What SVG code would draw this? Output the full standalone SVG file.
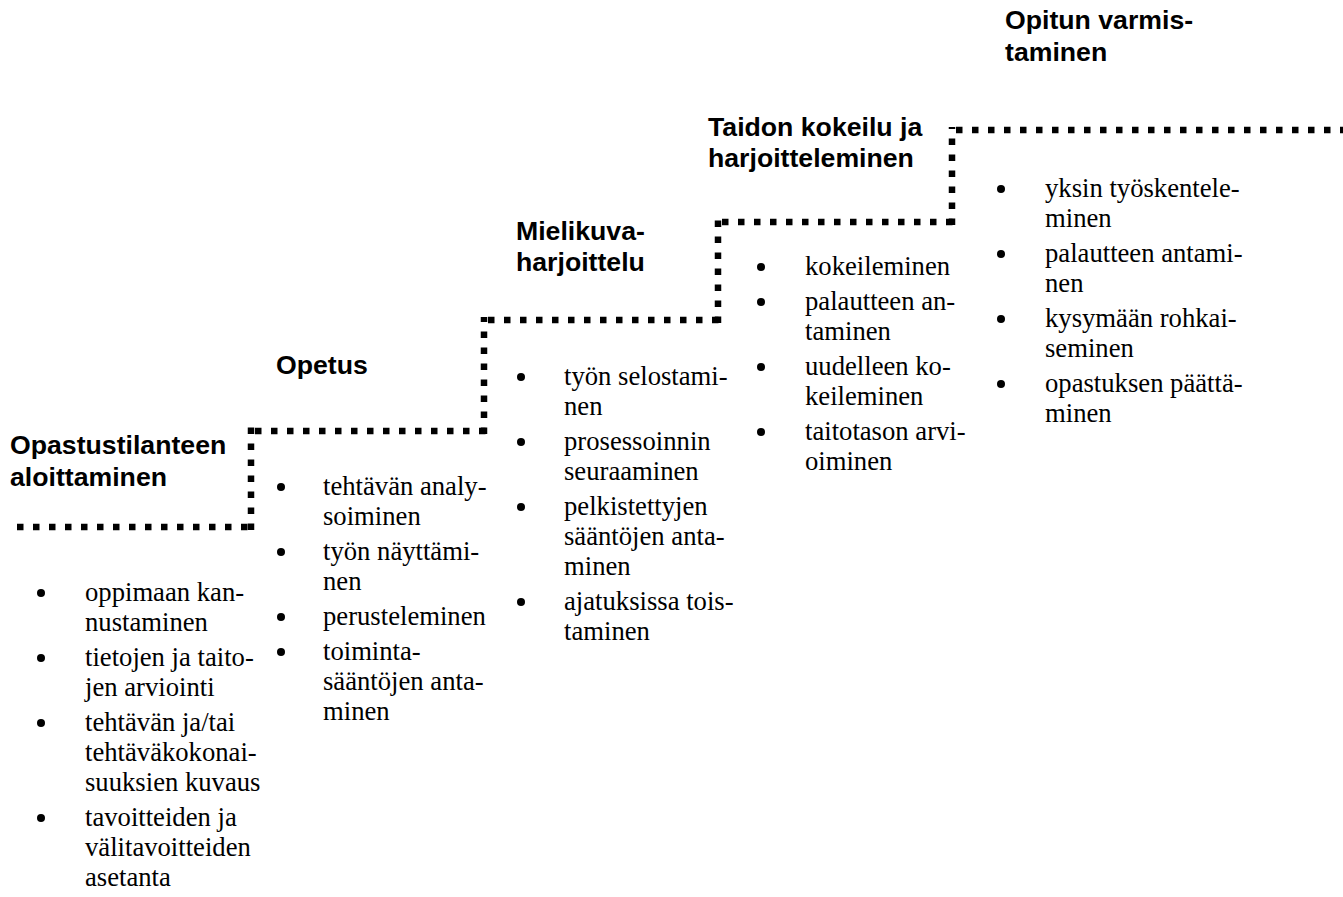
<svg xmlns="http://www.w3.org/2000/svg" width="1343" height="897" viewBox="0 0 1343 897">
<style>
.t{font-family:"Liberation Sans",Arial,sans-serif;font-weight:bold;font-size:26.67px;fill:#000}
.b{font-family:"Liberation Serif","Times New Roman",serif;font-size:26.67px;fill:#000}
.d{stroke:#000;stroke-width:6.5;stroke-dasharray:6.5 9.5;fill:none}
</style>
<rect width="1343" height="897" fill="#fff"/>
<g id="connectors">
<line class="d" x1="17" y1="527" x2="248" y2="527"/>
<line class="d" x1="251" y1="530" x2="251" y2="427"/>
<line class="d" x1="255" y1="431" x2="486" y2="431"/>
<line class="d" x1="484" y1="434" x2="484" y2="317"/>
<line class="d" x1="488" y1="320" x2="719" y2="320"/>
<line class="d" x1="718" y1="323" x2="718" y2="219"/>
<line class="d" x1="722" y1="222" x2="953" y2="222"/>
<line class="d" x1="952" y1="225" x2="952" y2="127"/>
<line class="d" x1="956" y1="130" x2="1343" y2="130"/>
</g>
<g id="step1">
<text class="t" x="10" y="454">Opastustilanteen</text>
<text class="t" x="10" y="486">aloittaminen</text>
<circle cx="41" cy="593" r="4"/><circle cx="41" cy="658" r="4"/><circle cx="41" cy="723" r="4"/><circle cx="41" cy="818" r="4"/>
<text class="b" x="85" y="601">oppimaan kan-</text>
<text class="b" x="85" y="631">nustaminen</text>
<text class="b" x="85" y="666">tietojen ja taito-</text>
<text class="b" x="85" y="696">jen arviointi</text>
<text class="b" x="85" y="731">tehtävän ja/tai</text>
<text class="b" x="85" y="761">tehtäväkokonai-</text>
<text class="b" x="85" y="791">suuksien kuvaus</text>
<text class="b" x="85" y="826">tavoitteiden ja</text>
<text class="b" x="85" y="856">välitavoitteiden</text>
<text class="b" x="85" y="886">asetanta</text>
</g>
<g id="step2">
<text class="t" x="276" y="374">Opetus</text>
<circle cx="281" cy="487" r="4"/><circle cx="281" cy="552" r="4"/><circle cx="281" cy="617" r="4"/><circle cx="281" cy="652" r="4"/>
<text class="b" x="323" y="495">tehtävän analy-</text>
<text class="b" x="323" y="525">soiminen</text>
<text class="b" x="323" y="560">työn näyttämi-</text>
<text class="b" x="323" y="590">nen</text>
<text class="b" x="323" y="625">perusteleminen</text>
<text class="b" x="323" y="660">toiminta-</text>
<text class="b" x="323" y="690">sääntöjen anta-</text>
<text class="b" x="323" y="720">minen</text>
</g>
<g id="step3">
<text class="t" x="516" y="240">Mielikuva-</text>
<text class="t" x="516" y="271">harjoittelu</text>
<circle cx="521" cy="377" r="4"/><circle cx="521" cy="442" r="4"/><circle cx="521" cy="507" r="4"/><circle cx="521" cy="602" r="4"/>
<text class="b" x="564" y="385">työn selostami-</text>
<text class="b" x="564" y="415">nen</text>
<text class="b" x="564" y="450">prosessoinnin</text>
<text class="b" x="564" y="480">seuraaminen</text>
<text class="b" x="564" y="515">pelkistettyjen</text>
<text class="b" x="564" y="545">sääntöjen anta-</text>
<text class="b" x="564" y="575">minen</text>
<text class="b" x="564" y="610">ajatuksissa tois-</text>
<text class="b" x="564" y="640">taminen</text>
</g>
<g id="step4">
<text class="t" x="708" y="136">Taidon kokeilu ja</text>
<text class="t" x="708" y="167">harjoitteleminen</text>
<circle cx="761" cy="267" r="4"/><circle cx="761" cy="302" r="4"/><circle cx="761" cy="367" r="4"/><circle cx="761" cy="432" r="4"/>
<text class="b" x="805" y="275">kokeileminen</text>
<text class="b" x="805" y="310">palautteen an-</text>
<text class="b" x="805" y="340">taminen</text>
<text class="b" x="805" y="375">uudelleen ko-</text>
<text class="b" x="805" y="405">keileminen</text>
<text class="b" x="805" y="440">taitotason arvi-</text>
<text class="b" x="805" y="470">oiminen</text>
</g>
<g id="step5">
<text class="t" x="1005" y="29">Opitun varmis-</text>
<text class="t" x="1005" y="61">taminen</text>
<circle cx="1001" cy="189" r="4"/><circle cx="1001" cy="254" r="4"/><circle cx="1001" cy="319" r="4"/><circle cx="1001" cy="384" r="4"/>
<text class="b" x="1045" y="197">yksin työskentele-</text>
<text class="b" x="1045" y="227">minen</text>
<text class="b" x="1045" y="262">palautteen antami-</text>
<text class="b" x="1045" y="292">nen</text>
<text class="b" x="1045" y="327">kysymään rohkai-</text>
<text class="b" x="1045" y="357">seminen</text>
<text class="b" x="1045" y="392">opastuksen päättä-</text>
<text class="b" x="1045" y="422">minen</text>
</g>
</svg>
